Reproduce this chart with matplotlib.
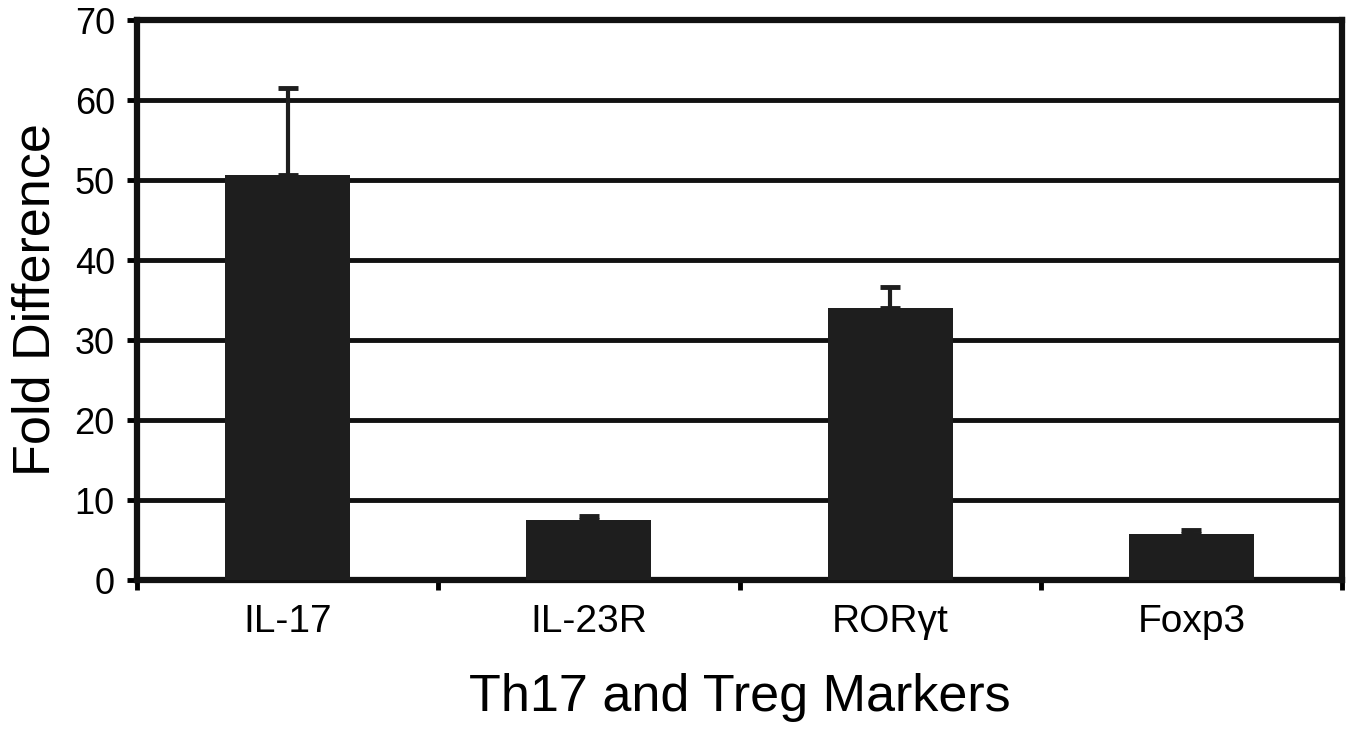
import matplotlib.pyplot as plt
import numpy as np

markers = ['IL-17', 'IL-23R', 'ROR\u03b3t', 'Foxp3']
fold = [50.6, 7.5, 34.0, 5.8]
err = [10.9, 0.5, 2.6, 0.4]

plt.rcParams['font.family'] = ['Liberation Sans', 'DejaVu Sans']

fig = plt.figure(figsize=(13.53, 7.31), dpi=100)
ax = fig.add_axes([137 / 1353, 1 - 580 / 731, 1205 / 1353, 560 / 731])

x = np.arange(len(markers))
ax.set_axisbelow(True)
ax.yaxis.grid(True, color='#111111', linewidth=3.5)
ax.bar(x, fold, width=0.415, color='#1e1e1e', zorder=3)
ax.errorbar(x, fold, yerr=[np.zeros(len(err)), err], fmt='none', ecolor='#1e1e1e',
            elinewidth=3, capsize=7, capthick=3.5, zorder=2)

ax.set_xlim(-0.5, len(markers) - 0.5)
ax.set_ylim(0, 70)
ax.set_yticks(range(0, 71, 10))
ax.set_xticks(x)
ax.set_xticklabels(markers, fontsize=28)
ax.set_xticks(np.arange(-0.5, len(markers)), minor=True)
ax.tick_params(axis='x', which='major', length=0, pad=17)
ax.tick_params(axis='x', which='minor', length=7, width=3.5, direction='out')
ax.tick_params(axis='y', labelsize=26, length=7, width=3.5, direction='out', pad=9)
for s in ax.spines.values():
    s.set_linewidth(4.5)
    s.set_color('#111111')

ax.set_xlabel('Th17 and Treg Markers', fontsize=37.5, labelpad=24)
ax.set_ylabel('Fold Difference', fontsize=37.5, labelpad=10)

fig.savefig('out.png', dpi=100)
